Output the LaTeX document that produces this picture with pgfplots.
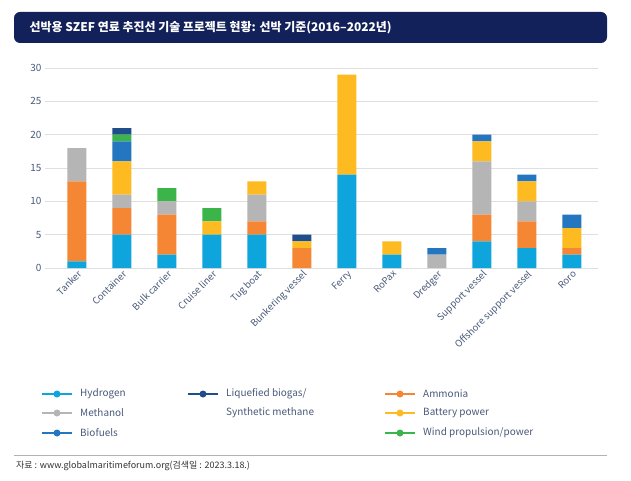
\documentclass[border=0pt]{standalone}
\usepackage{pgfplots}
\pgfplotsset{compat=1.18}
\usepackage{fontspec}
\setmainfont{Noto Sans CJK KR}
\definecolor{cH}{HTML}{0EA5DC}
\definecolor{cA}{HTML}{F58634}
\definecolor{cM}{HTML}{B5B5B5}
\definecolor{cB}{HTML}{FDBA21}
\definecolor{cF}{HTML}{2476C0}
\definecolor{cW}{HTML}{3BB54A}
\definecolor{cL}{HTML}{1F4E8C}
\definecolor{navy}{HTML}{13215A}
\definecolor{tick}{HTML}{4A5A7A}
\begin{document}
\begin{tikzpicture}[x=1bp,y=-1bp]
\fill[white] (0,0) rectangle (631,481);
\fill[navy, rounded corners=6bp] (14,12) rectangle (607,43);
\node[anchor=west, text=white, font=\bfseries\fontsize{12}{14}\selectfont] at (26,27.5) {선박용 SZEF 연료 추진선 기술 프로젝트 현황: 선박 기준(2016–2022년)};
\begin{axis}[at={(45bp,-268bp)}, anchor=south west, scale only axis,
  width=553bp, height=200bp, ymin=0, ymax=30, xmin=-0.71, xmax=11.58,
  ybar stacked, bar width=19bp, axis line style={draw=none},
  ytick={0,5,...,30}, ymajorgrids, grid style={gray!25, line width=0.8pt},
  major tick length=0pt, y tick label style={text=tick, font=\fontsize{10}{12}\selectfont},
  xtick={0,...,11}, xticklabels={Tanker,Container,Bulk carrier,Cruise liner,Tug boat,Bunkering vessel,Ferry,RoPax,Dredger,Support vessel,Offshore support vessel,Roro},
  x tick label style={rotate=45, anchor=north east, inner sep=1pt, text=tick, font=\fontsize{9.5}{11}\selectfont},
  /pgf/number format/assume math mode=true]
\addplot[fill=cH, draw=none] coordinates {(0,1)(1,5)(2,2)(3,5)(4,5)(5,0)(6,14)(7,2)(8,0)(9,4)(10,3)(11,2)};
\addplot[fill=cA, draw=none] coordinates {(0,12)(1,4)(2,6)(3,0)(4,2)(5,3)(6,0)(7,0)(8,0)(9,4)(10,4)(11,1)};
\addplot[fill=cM, draw=none] coordinates {(0,5)(1,2)(2,2)(3,0)(4,4)(5,0)(6,0)(7,0)(8,2)(9,8)(10,3)(11,0)};
\addplot[fill=cB, draw=none] coordinates {(0,0)(1,5)(2,0)(3,2)(4,2)(5,1)(6,15)(7,2)(8,0)(9,3)(10,3)(11,3)};
\addplot[fill=cF, draw=none] coordinates {(0,0)(1,3)(2,0)(3,0)(4,0)(5,0)(6,0)(7,0)(8,1)(9,1)(10,1)(11,2)};
\addplot[fill=cW, draw=none] coordinates {(0,0)(1,1)(2,2)(3,2)(4,0)(5,0)(6,0)(7,0)(8,0)(9,0)(10,0)(11,0)};
\addplot[fill=cL, draw=none] coordinates {(0,0)(1,1)(2,0)(3,0)(4,0)(5,1)(6,0)(7,0)(8,0)(9,0)(10,0)(11,0)};
\end{axis}
\begin{scope}[font=\fontsize{10}{12}\selectfont, text=tick]
\foreach \c/\x/\y/\t in {cH/42/394/{Hydrogen}, cM/42/413/{Methanol}, cF/42/433/{Biofuels}, cL/188/394/{Liquefied biogas/}, cA/385/394/{Ammonia}, cB/385/413/{Battery power}, cW/385/433/{Wind propulsion/power}}{
  \draw[\c, line width=1.5pt] (\x,\y) -- ++(30,0);
  \fill[\c] (\x+15,\y) circle (3.5bp);
  \node[anchor=west, inner sep=0pt] at (\x+38,\y) {\t};
}
\node[anchor=west, inner sep=0pt] at (226,413) {Synthetic methane};
\end{scope}
\draw[gray!60] (14,455) -- (607,455);
\node[anchor=west, inner sep=0pt, font=\fontsize{9}{11}\selectfont, text=black!80] at (16,466) {자료 : www.globalmaritimeforum.org(검색일 : 2023.3.18.)};
\end{tikzpicture}
\end{document}
